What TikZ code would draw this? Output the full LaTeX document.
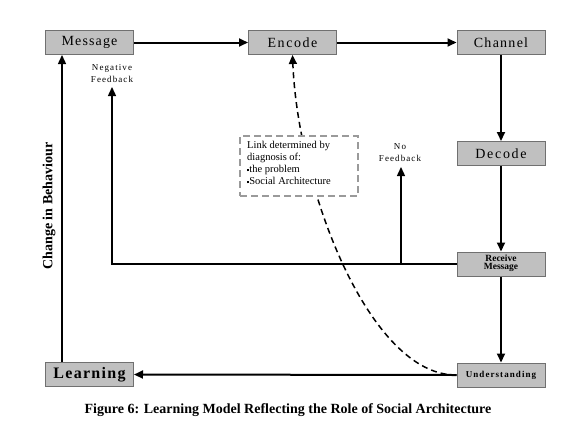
\documentclass[tikz,border=0pt]{standalone}
\usepackage{fontspec}
\setmainfont{Liberation Serif}
\usetikzlibrary{arrows.meta}
\definecolor{boxfill}{HTML}{C0C0C0}
\definecolor{boxline}{HTML}{707070}
\definecolor{dashgray}{HTML}{9A9A9A}
\begin{document}
\begin{tikzpicture}[x=1pt,y=-1pt,
  blk/.style={draw=boxline,line width=1pt,fill=boxfill,minimum width=88pt,minimum height=24pt,inner sep=0pt,anchor=center},
  flow/.style={line width=2pt,-{Triangle[length=9pt,width=8pt]}},
  fb/.style={line width=1.4pt,-{Triangle[length=9pt,width=8pt]}},
  small/.style={font=\fontsize{9}{12}\selectfont\addfontfeature{LetterSpace=12},align=center,inner sep=0pt}
]
\useasboundingbox (0,0) rectangle (576,432);
\fill[white] (0,0) rectangle (576,432);

\node[blk] (msg) at (89.5,42.5) {\fontsize{14}{14}\selectfont\addfontfeature{LetterSpace=8}Message};
\node[blk] (enc) at (292.5,42.5) {\fontsize{14}{14}\selectfont\addfontfeature{LetterSpace=11}Encode};
\node[blk] (chan) at (501,42.5) {\fontsize{14}{14}\selectfont\addfontfeature{LetterSpace=9}Channel};
\node[blk] (dec) at (501,153.5) {\fontsize{14}{14}\selectfont\addfontfeature{LetterSpace=12}Decode};
\node[blk] (rec) at (501,264) {\fontsize{9.5}{9.5}\selectfont\bfseries\begin{tabular}{@{}c@{}}Receive\\[-1.5pt]Message\end{tabular}};
\node[blk] (und) at (501,375) {\fontsize{9}{9}\selectfont\bfseries\addfontfeature{LetterSpace=12}Understanding};
\node[blk] (lrn) at (89.5,374.5) {\fontsize{16}{16}\selectfont\bfseries\addfontfeature{LetterSpace=8}Learning};

\draw[flow] (msg.east) -- (enc.west);
\draw[flow] (enc.east) -- (chan.west);
\draw[flow] (chan.south) -- (dec.north);
\draw[flow] (dec.south) -- (rec.north);
\draw[flow] (rec.south) -- (und.north);
\draw[flow] (und.west) -- (lrn.east);
\draw[fb] ([xshift=-27.5pt]lrn.north) -- ([xshift=-27.5pt]msg.south);

\node[rotate=90,font=\fontsize{14}{14}\selectfont\bfseries] (cib) at (49,206) {Change in Behaviour};

\coordinate (nftip) at (112,87);
\draw[fb] (rec.west) -| (nftip);
\node[small] (nfl) at (112,74) {Negative\\Feedback};

\coordinate (nobase) at (401,264);
\coordinate (notip) at (401,167);
\draw[fb] (nobase) -- (notip);
\node[small] (nol) at (400,153) {No\\Feedback};

\draw[line width=1.5pt,dash pattern=on 6pt off 4pt,-{Triangle[length=9pt,width=8pt]}]
  (und.west) .. controls (370,376) and (298,190) .. (enc.south);

\node[draw=dashgray,line width=2pt,dash pattern=on 7pt off 4pt,fill=white,minimum width=118pt,minimum height=60pt,inner sep=0pt,anchor=center] (lnk) at (299,166) {};
\node[anchor=north west,align=left,inner sep=0pt,font=\fontsize{10.5}{12}\selectfont] (lnkt) at (247,141)
 {Link determined by\\diagnosis of:\\\rule[1pt]{2.2pt}{2.2pt}the problem\\\rule[1pt]{2.2pt}{2.2pt}Social Architecture};

\node[font=\fontsize{14}{14}\selectfont\bfseries] (cap) at (288,410) {Figure 6: Learning Model Reflecting the Role of Social Architecture};
\end{tikzpicture}
\end{document}
